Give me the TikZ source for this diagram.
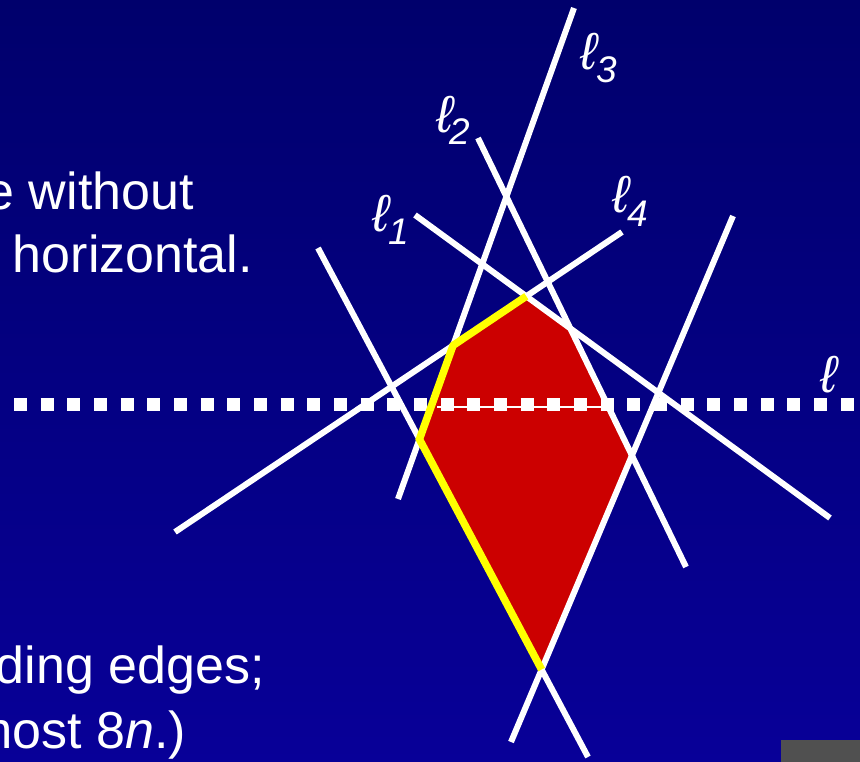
\documentclass[tikz,border=0pt]{standalone}
\usepackage{fontspec}
\setmainfont{Liberation Sans}
\definecolor{bgtop}{RGB}{0,0,108}
\definecolor{bgbot}{RGB}{8,0,152}
\definecolor{polyred}{RGB}{204,0,0}
\definecolor{hiyel}{RGB}{255,255,0}
\definecolor{boxgray}{RGB}{80,80,80}
\tikzset{
  wline/.style={draw=white, line width=6pt},
  yline/.style={draw=hiyel, line width=7.5pt, line join=miter},
  bigtext/.style={text=white, inner sep=0pt, font=\fontsize{52}{62}\selectfont},
  ellmark/.style={text=white, inner sep=0pt, font=\fontsize{52}{52}\selectfont\itshape, anchor=base},
  submark/.style={text=white, inner sep=0pt, font=\fontsize{37}{37}\selectfont\itshape, anchor=base},
  dotline/.style={draw=white, line width=13pt, dash pattern=on 13pt off 13.67pt},
}
\begin{document}
\begin{tikzpicture}[x=1pt, y=-1pt]
\useasboundingbox (0,0) rectangle (860,762);
\clip (0,0) rectangle (860,762);
\shade[top color=bgtop, bottom color=bgbot] (0,0) rectangle (860,762);
% line end points
\coordinate (l1a) at (415,215); \coordinate (l1b) at (830,518);
\coordinate (l2a) at (478,138); \coordinate (l2b) at (686,567);
\coordinate (l3a) at (574,8);   \coordinate (l3b) at (398,499);
\coordinate (l4a) at (622,232); \coordinate (l4b) at (175,532);
\coordinate (laa) at (318,248); \coordinate (lab) at (588,757);
\coordinate (lba) at (733,216); \coordinate (lbb) at (511,742);
% polygon vertices
\coordinate (vtop) at (intersection of l4a--l4b and l1a--l1b);
\coordinate (vur)  at (intersection of l1a--l1b and l2a--l2b);
\coordinate (vr)   at (intersection of l2a--l2b and lba--lbb);
\coordinate (vbot) at (intersection of lba--lbb and laa--lab);
\coordinate (vl)   at (intersection of laa--lab and l3a--l3b);
\coordinate (vul)  at (intersection of l3a--l3b and l4a--l4b);
\fill[polyred] (vtop) -- (vur) -- (vr) -- (vbot) -- (vl) -- (vul) -- cycle;
% white lines
\draw[wline] (l1a) -- (l1b);
\draw[wline] (l2a) -- (l2b);
\draw[wline] (l3a) -- (l3b);
\draw[wline] (l4a) -- (l4b);
\draw[wline] (laa) -- (lab);
\draw[wline] (lba) -- (lbb);
% thin line inside polygon
\coordinate (ta) at (437,407); \coordinate (tb) at (606,407);
\draw[white, line width=1.5pt] (ta) -- (tb);
% dotted horizontal line
\coordinate (da) at (14,404.5); \coordinate (db) at (860,404.5);
\draw[dotline] (da) -- (db);
% yellow chain
\draw[yline] (vtop) -- (vul) -- (vl) -- (vbot);
% labels
\node[ellmark] (e1) at (381,232) {ℓ};
\node[submark] (s1) at (398.5,245) {1};
\node[ellmark] (e2) at (445,133) {ℓ};
\node[submark] (s2) at (460,145) {2};
\node[ellmark] (e3) at (589,70) {ℓ};
\node[submark] (s3) at (606.5,83) {3};
\node[ellmark] (e4) at (621,213) {ℓ};
\node[submark] (s4) at (638,227) {4};
\node[ellmark] (el) at (829,392) {ℓ};
% text
\node[bigtext, anchor=base east] (t1) at (194,210) {e without};
\node[bigtext, anchor=base east] (t2) at (253,273) {horizontal.};
\node[bigtext, anchor=base east] (t3) at (265,683) {ding edges;};
\node[bigtext, anchor=base east] (t4) at (186,748) {most 8\textit{n}.)};
% gray box
\fill[boxgray] (781,740) rectangle (860,762);
\end{tikzpicture}
\end{document}
